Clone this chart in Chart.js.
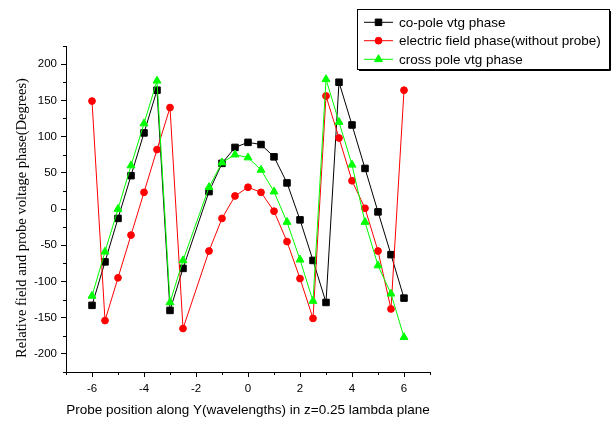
<!DOCTYPE html>
<html>
<head>
<meta charset="utf-8">
<script src="https://cdn.jsdelivr.net/npm/chart.js@4.4.0/dist/chart.umd.min.js"></script>
<style>
  html, body { margin: 0; padding: 0; background: #fff; }
  #wrap { position: relative; width: 614px; height: 421px; }
</style>
</head>
<body>
<div id="wrap"><canvas id="phaseChart" width="614" height="421"></canvas></div>
<script>
// probe positions (wavelengths) - note there is no sample at -2
const positions = [-6, -5.5, -5, -4.5, -4, -3.5, -3, -2.5, -1.5, -1, -0.5, 0, 0.5, 1, 1.5, 2, 2.5, 3, 3.5, 4, 4.5, 5, 5.5, 6];
const coPolePhase = [-133, -73, -13, 46, 105, 164, -140, -82, 24, 63, 85, 92, 89, 72, 36, -15, -71, -129, 175, 116, 56, -4, -63, -123];
const fieldPhase = [149, -154, -95, -36, 23, 82, 140, -165, -58, -13, 18, 30, 23, -3, -45, -96, -151, 156, 98, 39, 1, -58, -138, 164];
const crossPolePhase = [-120, -59, 0, 60, 118, 177, -129, -71, 30, 64, 75, 71, 54, 24, -18, -70, -127, 179, 120, 61, -18, -78, -117, -177];

const seriesNames = ['co-pole vtg phase', 'electric field phase(without probe)', 'cross pole vtg phase'];
const xTicks = [-6, -4, -2, 0, 2, 4, 6];
const xMinorTicks = [-7, -5, -3, -1, 1, 3, 5, 7];
const yTicks = [-200, -150, -100, -50, 0, 50, 100, 150, 200];
const yMinorTicks = [-225, -175, -125, -75, -25, 25, 75, 125, 175, 225];
const xTitle = 'Probe position along Y(wavelengths) in z=0.25 lambda plane';
const yTitle = 'Relative field and probe voltage phase(Degrees)';

const SANS = '"Liberation Sans", Arial, sans-serif';
const SERIF = '"Liberation Serif", "Times New Roman", serif';

function toPoints(values) {
  return positions.map((x, i) => ({ x, y: values[i] }));
}

const minorTicks = {
  id: 'minorTicks',
  afterDraw(chart) {
    const { ctx, scales: { x, y } } = chart;
    ctx.save();
    ctx.strokeStyle = '#000';
    ctx.lineWidth = 1;
    ctx.beginPath();
    xMinorTicks.forEach((v) => {
      const px = Math.round(x.getPixelForValue(v)) + 0.5;
      ctx.moveTo(px, x.top);
      ctx.lineTo(px, x.top + 3);
    });
    yMinorTicks.forEach((v) => {
      const py = Math.round(y.getPixelForValue(v)) + 0.5;
      ctx.moveTo(y.right, py);
      ctx.lineTo(y.right - 3, py);
    });
    ctx.stroke();
    ctx.restore();
  }
};

// y title sits a bit below the centre of the axis in the original
const sideTitle = {
  id: 'sideTitle',
  afterDraw(chart) {
    const { ctx, chartArea } = chart;
    ctx.save();
    ctx.translate(22, (chartArea.top + chartArea.bottom) / 2 + 9);
    ctx.rotate(-Math.PI / 2);
    ctx.fillStyle = '#000';
    ctx.font = '14.5px ' + SERIF;
    ctx.textAlign = 'center';
    ctx.textBaseline = 'middle';
    ctx.fillText(yTitle, 0, 0);
    ctx.restore();
  }
};

const boxLegend = {
  id: 'boxLegend',
  afterDraw(chart) {
    const { ctx } = chart;
    const rows = [22.3, 40.7, 59.3];
    ctx.save();
    ctx.strokeStyle = '#000';
    ctx.lineWidth = 1;
    ctx.strokeRect(357.5, 9.5, 252, 60);
    // thin drop shadow on right and bottom
    ctx.beginPath();
    ctx.moveTo(610.5, 11);
    ctx.lineTo(610.5, 70.5);
    ctx.lineTo(359, 70.5);
    ctx.stroke();
    chart.data.datasets.forEach((ds, i) => {
      const y = rows[i];
      ctx.strokeStyle = ds.borderColor;
      ctx.lineWidth = 1;
      ctx.beginPath();
      ctx.moveTo(364, y);
      ctx.lineTo(393, y);
      ctx.stroke();
      ctx.fillStyle = ds.pointBackgroundColor;
      ctx.strokeStyle = ds.borderColor;
      Chart.helpers.drawPoint(ctx, {
        pointStyle: ds.pointStyle,
        radius: ds.pointRadius,
        borderWidth: 1,
        rotation: 0
      }, 378.5, y);
      ctx.fillStyle = '#000';
      ctx.font = '13.5px ' + SANS;
      ctx.textAlign = 'left';
      ctx.textBaseline = 'middle';
      ctx.fillText(ds.label, 399, y + 0.5);
    });
    ctx.restore();
  }
};

const axisGrid = {
  drawOnChartArea: false,
  drawTicks: true,
  tickLength: 5,
  tickColor: '#000',
  tickWidth: 1
};

new Chart(document.getElementById('phaseChart'), {
  type: 'line',
  data: {
    datasets: [
      {
        label: seriesNames[0],
        data: toPoints(coPolePhase),
        borderColor: '#000000',
        backgroundColor: '#000000',
        pointBackgroundColor: '#000000',
        pointStyle: 'rect',
        pointRadius: 4.6,
        order: 2
      },
      {
        label: seriesNames[1],
        data: toPoints(fieldPhase),
        borderColor: '#ff0000',
        backgroundColor: '#ff0000',
        pointBackgroundColor: '#ff0000',
        pointStyle: 'circle',
        pointRadius: 3.4,
        order: 1
      },
      {
        label: seriesNames[2],
        data: toPoints(crossPolePhase),
        borderColor: '#00ff00',
        backgroundColor: '#00ff00',
        pointBackgroundColor: '#00ff00',
        pointStyle: 'triangle',
        pointRadius: 4.6,
        order: 0
      }
    ]
  },
  options: {
    responsive: false,
    animation: false,
    devicePixelRatio: 1,
    layout: { padding: { top: 46, right: 184, left: 0, bottom: 0 } },
    elements: {
      line: { borderWidth: 1, tension: 0, fill: false },
      point: { borderWidth: 1, hoverRadius: 4 }
    },
    plugins: {
      legend: { display: false },
      tooltip: { enabled: false }
    },
    scales: {
      x: {
        type: 'linear',
        min: -7,
        max: 7,
        afterBuildTicks: (s) => { s.ticks = xTicks.map((v) => ({ value: v })); },
        afterFit: (s) => { s.height = 49; },
        border: { display: true, color: '#000', width: 1 },
        grid: axisGrid,
        ticks: {
          color: '#000',
          padding: 5,
          maxRotation: 0,
          font: { family: SANS, size: 11.5 }
        },
        title: {
          display: true,
          text: xTitle,
          color: '#000',
          font: { family: SANS, size: 13.5 },
          padding: { top: 0, bottom: 3 }
        }
      },
      y: {
        type: 'linear',
        min: -225,
        max: 225,
        afterBuildTicks: (s) => { s.ticks = yTicks.map((v) => ({ value: v })); },
        afterFit: (s) => { s.width = 66; },
        border: { display: true, color: '#000', width: 1 },
        grid: axisGrid,
        ticks: {
          color: '#000',
          padding: 4,
          font: { family: SANS, size: 11.5 }
        }
      }
    }
  },
  plugins: [minorTicks, sideTitle, boxLegend]
});
</script>
</body>
</html>
